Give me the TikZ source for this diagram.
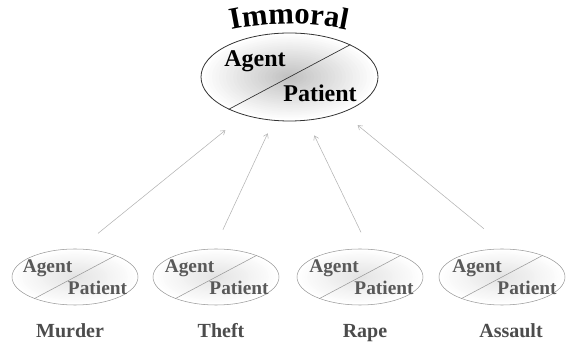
\documentclass[tikz,border=0pt]{standalone}
\usepackage{fontspec}
\setmainfont{Liberation Serif}
\usetikzlibrary{arrows.meta,shapes.geometric,decorations.text}

\begin{document}
\begin{tikzpicture}[x=0.75pt,y=0.75pt,
    bigcase/.style={ellipse,draw=black!80,line width=0.6pt,minimum width=132.75pt,minimum height=66pt,inner sep=0pt},
    crime/.style={ellipse,draw=black!40,line width=0.4pt,minimum width=94.5pt,minimum height=42pt,inner sep=0pt},
    bigrole/.style={anchor=base,inner sep=0pt,font=\fontsize{18}{18}\selectfont\bfseries},
    role/.style={anchor=base,inner sep=0pt,text=black!65,font=\fontsize{14.5}{14.5}\selectfont\bfseries},
    crimename/.style={anchor=base,inner sep=0pt,text=black!70,font=\fontsize{15}{15}\selectfont\bfseries},
    link/.style={draw=black!30,line width=0.4pt,-{Straight Barb[length=3pt,width=4pt]}}]

    \useasboundingbox (0,0) rectangle (571,346);

    % the ellipses
    \node[bigcase] (immoral) at (289.5,269) {};
    \node[crime] (murder) at (75,69) {};
    \node[crime] (theft) at (216,69) {};
    \node[crime] (rape) at (360,69) {};
    \node[crime] (assault) at (502,69) {};

    % soft grey in the middle of each ellipse
    \foreach \ell/\rx/\ry/\dark in {immoral/66/32.6/25,murder/47/20.7/11,theft/47/20.7/11,rape/47/20.7/11,assault/47/20.7/11}{
        \foreach \i in {1,...,24}{
            \pgfmathsetmacro\rr{1-\i/25}
            \pgfmathsetmacro\cc{\dark*\i/25}
            \fill[black!\cc] (\ell.center) ellipse[x radius=\rx pt*\rr, y radius=\ry pt*\rr];
        }
    }

    % the moral judgement on top
    \draw[black!80,line width=0.5pt] (immoral.208) -- (immoral.28);
    \node[bigrole] (bigagent) at (255,279) {Agent};
    \node[bigrole] (bigpatient) at (320,244) {Patient};
    \path[decorate,decoration={text along path,text align=center,
        text={|\fontsize{23}{23}\selectfont\bfseries|Immoral}}]
        (289,42) ++(110:280) arc[start angle=110,end angle=70,radius=280];

    % murder
    \draw[black!40,line width=0.4pt] (murder.208) -- (murder.28);
    \node[role] (murderagent) at (47.5,73) {Agent};
    \node[role] (murderpatient) at (97.5,51) {Patient};
    \node[crimename] (murdername) at (70,8) {Murder};

    % theft
    \draw[black!40,line width=0.4pt] (theft.208) -- (theft.28);
    \node[role] (theftagent) at (189.5,73) {Agent};
    \node[role] (theftpatient) at (239,51) {Patient};
    \node[crimename] (theftname) at (221,8) {Theft};

    % rape
    \draw[black!40,line width=0.4pt] (rape.208) -- (rape.28);
    \node[role] (rapeagent) at (334,73) {Agent};
    \node[role] (rapepatient) at (384,51) {Patient};
    \node[crimename] (rapename) at (365,8) {Rape};

    % assault
    \draw[black!40,line width=0.4pt] (assault.208) -- (assault.28);
    \node[role] (assaultagent) at (477,73) {Agent};
    \node[role] (assaultpatient) at (527,51) {Patient};
    \node[crimename] (assaultname) at (511,8) {Assault};

    % links up to the judgement
    \draw[link,shorten <=18.4pt,shorten >=18pt] (murder.82) -- (immoral.220);
    \draw[link,shorten <=15.8pt,shorten >=10.5pt] (theft.94) -- (immoral.250);
    \draw[link,shorten <=13.9pt,shorten >=12.4pt] (rape.72) -- (immoral.292);
    \draw[link,shorten <=23.9pt,shorten >=14.8pt] (assault.77) -- (immoral.326);

\end{tikzpicture}
\end{document}
